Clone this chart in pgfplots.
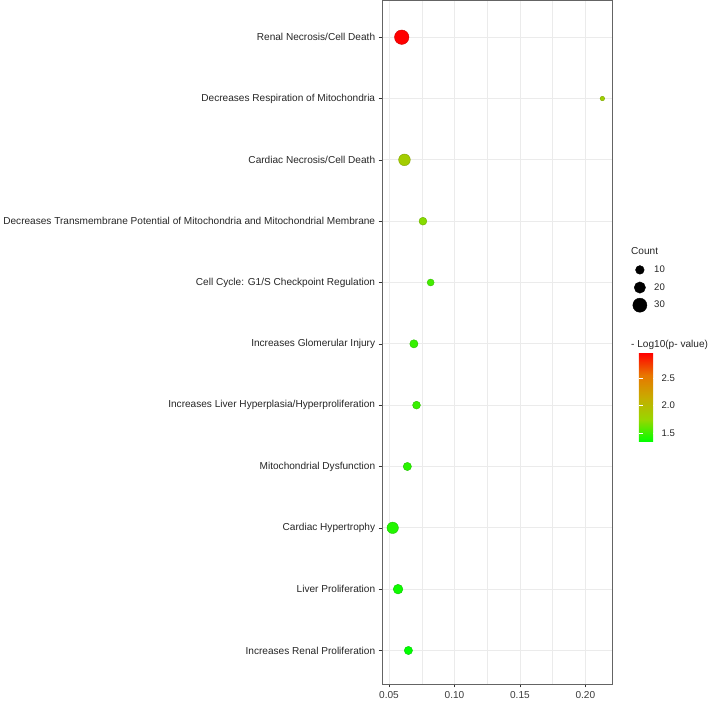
\documentclass[border=0pt]{standalone}
\usepackage{fontspec}
\setmainfont{Liberation Sans}
\usepackage{pgfplots}
\usepackage{pgfplotstable}
\pgfplotsset{compat=1.18}
\definecolor{gridc}{RGB}{235,235,235}
\definecolor{txtc}{RGB}{60,60,60}
\definecolor{framec}{RGB}{100,100,100}
\pgfplotsset{
  colormap={lab}{rgb255=(0,255,0) rgb255=(152,215,0) rgb255=(200,171,0) rgb255=(232,118,0) rgb255=(255,0,0)}
}
% y: row index (11 = top), x: ratio, cnt: Count, lp: -Log10(p-value)
\pgfplotstableread{
y  x      cnt lp
11 0.0597 32  2.96
10 0.2130 2   1.80
9  0.0618 20  1.84
8  0.0759 8   1.70
7  0.0818 6   1.52
6  0.0690 9   1.48
5  0.0710 8   1.49
4  0.0640 9   1.45
3  0.0528 19  1.43
2  0.0569 13  1.38
1  0.0648 9   1.34
}\data
\begin{document}
\begin{tikzpicture}
\begin{axis}[
  scale only axis,
  width=228.7bp, height=677.8bp,
  xmin=0.0448, xmax=0.2210,
  ymin=0.455, ymax=11.6,
  clip=false,
  axis line style={draw=framec, line width=0.7bp},
  xtick={0.05,0.10,0.15,0.20},
  minor xtick={0.075,0.125,0.175},
  ytick={1,...,11},
  yticklabels={Increases Renal Proliferation, Liver Proliferation, Cardiac Hypertrophy, Mitochondrial Dysfunction, Increases Liver Hyperplasia/Hyperproliferation, Increases Glomerular Injury, {Cell Cycle: G1/S Checkpoint Regulation}, Decreases Transmembrane Potential of Mitochondria and Mitochondrial Membrane, Cardiac Necrosis/Cell Death, Decreases Respiration of Mitochondria, Renal Necrosis/Cell Death},
  xticklabel style={/pgf/number format/fixed, /pgf/number format/fixed zerofill, /pgf/number format/precision=2, /pgf/number format/assume math mode=true, /tikz/font=\fontsize{10bp}{12bp}\selectfont, /tikz/text=txtc},
  yticklabel style={/tikz/font=\fontsize{10bp}{12bp}\selectfont, /tikz/text=black!85},
  tick align=outside,
  major tick length=3.5bp,
  minor tick length=0pt,
  tick style={draw=black!80, line width=0.6bp},
  xtick pos=bottom, ytick pos=left,
  grid=both,
  major grid style={draw=gridc, line width=0.8bp},
  minor grid style={draw=gridc, line width=0.4bp},
  point meta min=1.34, point meta max=2.96,
  colormap name=lab,
  colorbar,
  colorbar style={
    at={(parent axis.north east)}, anchor=north west,
    xshift=17.3bp, yshift=-349.5bp,
    width=18bp, height=88bp,
    scale only axis,
    ytick={1.5,2.0,2.5},
    yticklabel style={/pgf/number format/fixed, /pgf/number format/fixed zerofill, /pgf/number format/precision=1, /pgf/number format/assume math mode=true, /tikz/font=\fontsize{9.5bp}{11bp}\selectfont, /tikz/text=black!85, /tikz/xshift=1bp},
    axis line style={draw=none},
    ytick pos=both, yticklabel pos=right,
    tick align=inside,
    major tick length=3.6bp,
    tick style={draw=white, line width=0.6bp},
  },
  legend style={at={(1,1)}, anchor=north west, xshift=19.1bp, yshift=-258.5bp,
    draw=none, fill=none, inner sep=0pt, outer sep=0pt,
    nodes={inner sep=0pt, anchor=west, minimum height=17.5bp, font=\fontsize{9.5bp}{11bp}\selectfont, text=black!85},
    row sep=0pt, column sep=6.5bp},
  legend cell align=left,
]
\addplot[forget plot, scatter, only marks, mark=*, scatter src=explicit,
  visualization depends on={\thisrow{cnt} \as \cnt},
  scatter/@pre marker code/.append style={/tikz/mark size={0.63+1.16*sqrt(\cnt)}}]
  table[x=x, y=y, meta=lp] {\data};
\addlegendimage{legend image code/.code={\fill[black] (0,0) circle[radius=4.3bp]; \path (-7.5bp,0) (7.5bp,0);}}
\addlegendentry{10}
\addlegendimage{legend image code/.code={\fill[black] (0,0) circle[radius=5.6bp]; \path (-7.5bp,0) (7.5bp,0);}}
\addlegendentry{20}
\addlegendimage{legend image code/.code={\fill[black] (0,0) circle[radius=7bp]; \path (-7.5bp,0) (7.5bp,0);}}
\addlegendentry{30}
\node[anchor=base west, inner sep=0pt, font=\fontsize{10bp}{12bp}\selectfont, text=black!85] at (rel axis cs:1,1) [xshift=18bp, yshift=-252bp] {Count};
\node[anchor=base west, inner sep=0pt, font=\fontsize{10bp}{12bp}\selectfont, text=black!85] at (rel axis cs:1,1) [xshift=18bp, yshift=-344bp] {- Log10(p- value)};
\end{axis}
\end{tikzpicture}
\end{document}
